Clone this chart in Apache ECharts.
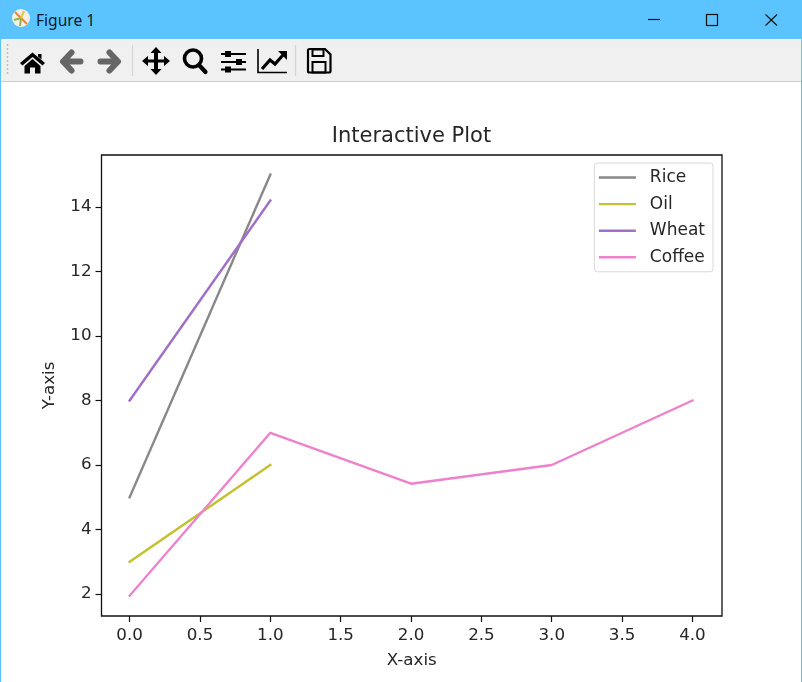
<!DOCTYPE html>
<html><head><meta charset="utf-8">
<style>
html,body{margin:0;padding:0;background:#fff;width:802px;height:682px;overflow:hidden}
#chart{position:absolute;left:0;top:0;width:802px;height:682px}
#bar{position:absolute;left:0;top:0;width:802px;height:39px;background:#5bc4ff}
#tt{position:absolute;left:36px;top:11px;font:15.6px "Noto Sans","Open Sans",sans-serif;line-height:18px;color:#0b1a2a}
#tool{position:absolute;left:1px;top:39.5px;width:800px;height:41px;background:#f0f0f0;border-bottom:1.5px solid #cdcdcd}
.edge{position:absolute;background:#5bc4ff}
svg{position:absolute;overflow:visible}
</style></head><body>
<div id="chart"></div>
<div id="bar"><div id="tt">Figure 1</div></div>
<div id="tool"></div>
<div class="edge" style="left:0;top:39px;width:1px;height:643px"></div>
<div class="edge" style="left:801px;top:39px;width:1px;height:643px"></div>
<svg width="802" height="82" style="left:0;top:0">
  <circle cx="21" cy="18" r="9" fill="#f6f0e4"/>
  <path d="M21 18L15 12M21 18L27 24" stroke="#e8873a" stroke-width="2"/>
  <path d="M21 18L20 26M21 18L14 20" stroke="#8cb84a" stroke-width="2"/>
  <path d="M21 18L24 11" stroke="#e8c33a" stroke-width="2"/>
  <path d="M648 19.5H660" stroke="#111" stroke-width="1.2"/>
  <rect x="706.5" y="14.5" width="11" height="11" fill="none" stroke="#111" stroke-width="1.2"/>
  <path d="M765.5 14.5L777 25.5M777 14.5L765.5 25.5" stroke="#111" stroke-width="1.1"/>
  <g fill="#b8b8b8"><circle cx="7.5" cy="45" r=".9"/><circle cx="7.5" cy="49" r=".9"/><circle cx="7.5" cy="53" r=".9"/><circle cx="7.5" cy="57" r=".9"/><circle cx="7.5" cy="61" r=".9"/><circle cx="7.5" cy="65" r=".9"/><circle cx="7.5" cy="69" r=".9"/><circle cx="7.5" cy="73" r=".9"/></g>
  <path d="M132.5 45V76M295.5 45V76" stroke="#d4d4d4" stroke-width="1.2"/>
  <path d="M20 63L32.5 52.5L45 63L42.5 65.5L32.5 57L22.5 65.5Z M38 54V56.5L41.5 59.5V54Z M24.5 66L32.5 59L40.5 66V73.5H35V67.5H30V73.5H24.5Z" fill="#000"/>
  <path d="M71.5 52.5L63 61.5L71.5 70.5M64 61.5H80.5" fill="none" stroke="#666" stroke-width="6" stroke-linejoin="round" stroke-linecap="round"/>
  <path d="M109.5 52.5L118 61.5L109.5 70.5M117 61.5H100.5" fill="none" stroke="#666" stroke-width="6" stroke-linejoin="round" stroke-linecap="round"/>
  <path d="M156 47L161.5 53H158V59.5H164V56L170 61L164 66V62.5H158V69H161.5L156 75L150.500 69H154V62.5H148V66L142 61L148 56V59.5H154V53H150.500Z" fill="#000"/>
  <circle cx="193" cy="58.500" r="8.500" fill="none" stroke="#000" stroke-width="3.600"/>
  <path d="M199 65L205.500 72" stroke="#000" stroke-width="4.200" stroke-linecap="round"/>
  <path d="M221 54H246M221 62H246M221 69.500H246" stroke="#000" stroke-width="2"/>
  <rect x="225" y="51" width="6" height="6" fill="#000"/><rect x="236" y="59" width="6" height="6" fill="#000"/><rect x="225" y="66.500" width="6" height="6" fill="#000"/>
  <path d="M258 49V72.500H287" fill="none" stroke="#000" stroke-width="1.600"/>
  <path d="M262 69L270 60L275 64L283 55" fill="none" stroke="#000" stroke-width="3.200"/>
  <path d="M278 51H287V60Z" fill="#000"/>
  <path d="M308 50.500a1.500 1.500 0 0 1 1.500-1.500H325L330.500 54.500V71a1.500 1.500 0 0 1-1.500 1.500H309.500a1.500 1.500 0 0 1-1.500-1.500Z" fill="none" stroke="#000" stroke-width="2.200"/>
  <rect x="312.500" y="49.500" width="11" height="6.500" fill="none" stroke="#000" stroke-width="2"/>
  <rect x="312.500" y="62" width="13" height="10.500" fill="none" stroke="#000" stroke-width="2"/>
</svg>
<script src="https://cdn.jsdelivr.net/npm/echarts@6/dist/echarts.min.js"></script>
<script>
const seriesNames = ['Rice', 'Oil', 'Wheat', 'Coffee'];
const riceX = [0, 1];
const riceY = [5, 15];
const oilX = [0, 1];
const oilY = [3, 6];
const wheatX = [0, 1];
const wheatY = [8, 14.2];
const coffeeX = [0, 1, 2, 3, 4];
const coffeeY = [1.95, 7, 5.42, 6, 8];
const xTicks = [0, 0.5, 1, 1.5, 2, 2.5, 3, 3.5, 4];
const yTicks = [2, 4, 6, 8, 10, 12, 14];
const colors = ['#888888', '#c2c22e', '#a070c8', '#ee80cc'];
const font = 'DejaVu Sans';
const txt = '#262626';
const pairs = (x, y) => x.map((v, i) => [v, y[i]]);
const mk = (i, x, y) => ({
  name: seriesNames[i], type: 'line', data: pairs(x, y), symbol: 'none', silent: true,
  animation: false, lineStyle: { color: colors[i], width: 2.4, cap: 'square', join: 'round' }, itemStyle: { color: colors[i] }
});
const chart = echarts.init(document.getElementById('chart'));
chart.setOption({
  animation: false,
  backgroundColor: 'transparent',
  title: { text: 'Interactive Plot', left: 411.5, top: 126, textAlign: 'center', padding: 0,
    textStyle: { fontFamily: font, fontWeight: 'normal', fontSize: 21, color: txt } },
  grid: { left: 101.5, right: 80, top: 155, bottom: 66, show: true, borderColor: '#111', borderWidth: 1.3, backgroundColor: '#fff' },
  legend: {
    orient: 'vertical', right: 89, top: 163, data: seriesNames, icon: 'rect',
    itemWidth: 37, itemHeight: 2.4, itemGap: 9.6, padding: [6, 8, 6, 4.5],
    borderColor: '#d9d9d9', borderWidth: 1, borderRadius: 3, backgroundColor: '#fff',
    textStyle: { fontFamily: font, fontSize: 17, color: txt, padding: [0, 0, 0, 9], lineHeight: 16 },
    selectedMode: false
  },
  xAxis: {
    type: 'value', min: -0.2, max: 4.21, splitLine: { show: false }, axisLine: { show: false, onZero: false },
    axisTick: { show: true, length: 6, lineStyle: { color: '#111', width: 1.2 }, customValues: xTicks },
    axisLabel: { customValues: xTicks, formatter: v => v.toFixed(1), color: txt, fontFamily: font, fontSize: 16.7, margin: 11 },
    name: 'X-axis', nameLocation: 'middle', nameGap: 36,
    nameTextStyle: { fontFamily: font, fontSize: 16.7, color: txt }
  },
  yAxis: {
    type: 'value', min: 1.32, max: 15.61, splitLine: { show: false }, axisLine: { show: false, onZero: false },
    axisTick: { show: true, length: 6, lineStyle: { color: '#111', width: 1.2 }, customValues: yTicks },
    axisLabel: { customValues: yTicks, color: txt, fontFamily: font, fontSize: 16.7, margin: 10, padding: [8, 0, 0, 0] },
    name: 'Y-axis', nameLocation: 'middle', nameGap: 43,
    nameTextStyle: { fontFamily: font, fontSize: 16.7, color: txt }
  },
  series: [mk(0, riceX, riceY), mk(1, oilX, oilY), mk(2, wheatX, wheatY), mk(3, coffeeX, coffeeY)]
});
</script>
</body></html>
